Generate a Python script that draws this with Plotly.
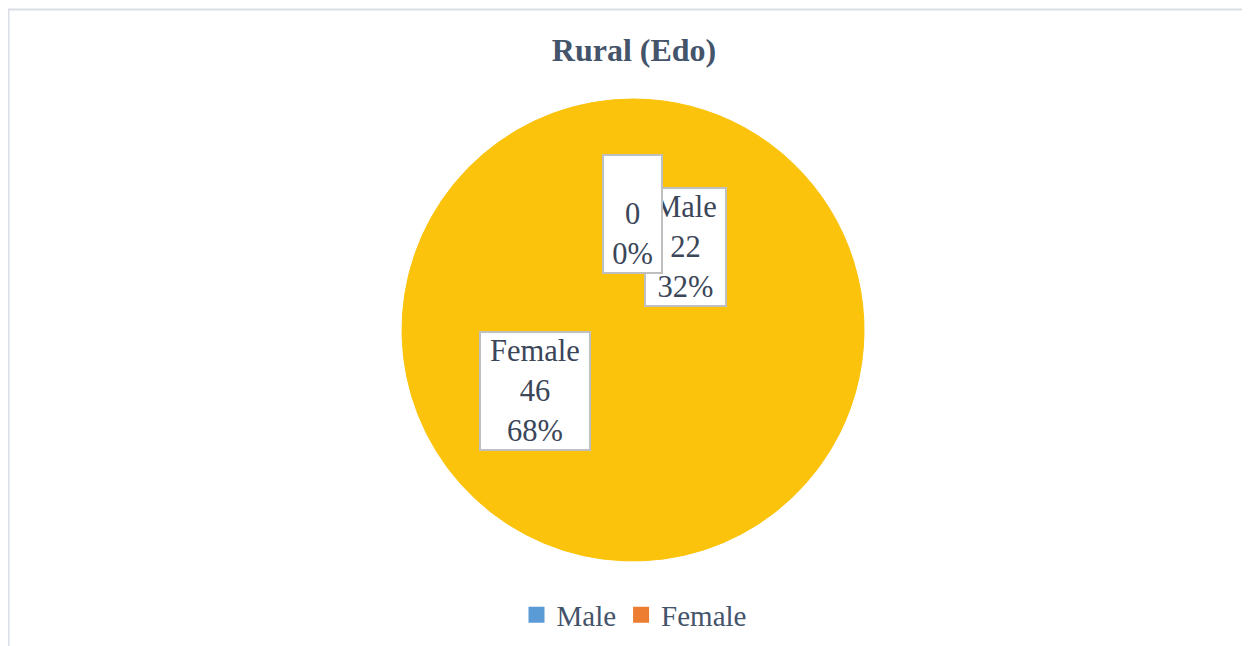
import plotly.graph_objects as go

# ---- data ----
slice_names = ["", "Male", "Female"]
slice_values = [0, 22, 46]
slice_percents = ["0%", "32%", "68%"]
legend_names = ["Male", "Female"]
legend_colors = ["#5B9BD5", "#ED7D31"]
title_text = "Rural (Edo)"

# page has an 8px body margin; work in reference-pixel coordinates
OFF = 8
W, H = 1250 - OFF, 646 - OFF
FONT = "Liberation Serif"
TXT = "#44546A"
LBL = "#3B4659"
PIE_COLOR = "#FBC30C"


def px(x):
    return (x - OFF) / W


def py(y):
    return 1 - (y - OFF) / H


fig = go.Figure()

cx, cy, r = 633, 330, 231
fig.add_trace(go.Pie(
    labels=[n if n else " " for n in slice_names],
    values=slice_values,
    marker=dict(colors=[PIE_COLOR] * len(slice_values),
                line=dict(width=1, color=PIE_COLOR)),
    textinfo="none",
    hoverinfo="label+value+percent",
    sort=False,
    direction="clockwise",
    showlegend=False,
    domain=dict(x=[px(cx - r), px(cx + r)], y=[py(cy + r), py(cy - r)]),
))

for name, col in zip(legend_names, legend_colors):
    fig.add_trace(go.Scatter(
        x=[None], y=[None], mode="markers", name=name,
        marker=dict(symbol="square", size=16, color=col),
        showlegend=True,
    ))

label_boxes = {
    "Male": dict(x=685.5, y=247, w=79, h=116),
    "": dict(x=632.5, y=214, w=57, h=116),
    "Female": dict(x=535, y=391, w=108, h=116),
}
for key in ["Male", "", "Female"]:
    i = slice_names.index(key)
    lines = [slice_names[i] or " ", str(slice_values[i]), slice_percents[i]]
    b = label_boxes[key]
    fig.add_annotation(
        x=px(b["x"]), y=py(b["y"]), xref="paper", yref="paper",
        xanchor="center", yanchor="middle",
        text="<br>".join(lines), showarrow=False,
        width=b["w"], height=b["h"], align="center", valign="middle",
        bgcolor="white", bordercolor="#BFBFBF", borderwidth=2, borderpad=0,
        font=dict(family=FONT, size=30.5, color=LBL),
    )

border = "#D9DEE6"
fig.add_shape(type="line", xref="paper", yref="paper",
              x0=px(8), x1=1, y0=py(9.5), y1=py(9.5),
              line=dict(color=border, width=2))
fig.add_shape(type="line", xref="paper", yref="paper",
              x0=px(8.5), x1=px(8.5), y0=0, y1=py(9),
              line=dict(color=border, width=2))

fig.update_layout(
    width=W, height=H,
    margin=dict(l=0, r=0, t=0, b=0),
    paper_bgcolor="white", plot_bgcolor="white",
    title=dict(text="<b>" + title_text + "</b>", x=px(634), xanchor="center",
               y=py(50), yanchor="middle",
               font=dict(family=FONT, size=32, color=TXT)),
    legend=dict(orientation="h", x=px(634), xanchor="center",
                y=py(615), yanchor="middle",
                font=dict(family=FONT, size=29, color=TXT),
                itemwidth=30, bgcolor="rgba(0,0,0,0)"),
    xaxis=dict(visible=False, range=[0, 1]),
    yaxis=dict(visible=False, range=[0, 1]),
)

fig.write_html("out.html")
